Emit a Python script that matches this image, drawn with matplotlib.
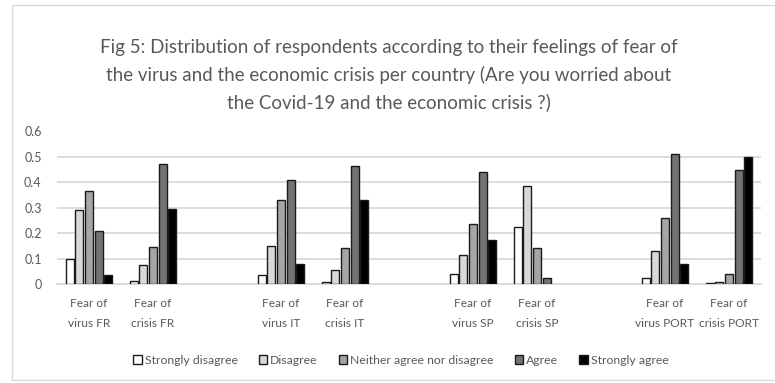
import matplotlib
matplotlib.use("Agg")
import matplotlib.pyplot as plt
from matplotlib.patches import Rectangle
import numpy as np

nan = float("nan")
categories = ["Fear of\nvirus FR", "Fear of\ncrisis FR", "",
              "Fear of\nvirus IT", "Fear of\ncrisis IT", "",
              "Fear of\nvirus SP", "Fear of\ncrisis SP", "",
              "Fear of\nvirus PORT", "Fear of\ncrisis PORT"]
series_names = ["Strongly disagree", "Disagree", "Neither agree nor disagree",
                "Agree", "Strongly agree"]
strongly_disagree = [0.098, 0.013, nan, 0.035, 0.007, nan, 0.038, 0.224, nan, 0.022, 0.004]
disagree          = [0.291, 0.073, nan, 0.148, 0.055, nan, 0.113, 0.384, nan, 0.128, 0.009]
neither           = [0.364, 0.145, nan, 0.330, 0.143, nan, 0.235, 0.143, nan, 0.258, 0.039]
agree             = [0.207, 0.473, nan, 0.408, 0.463, nan, 0.440, 0.022, nan, 0.510, 0.447]
strongly_agree    = [0.035, 0.297, nan, 0.077, 0.329, nan, 0.173, nan, nan, 0.080, 0.501]
values = [strongly_disagree, disagree, neither, agree, strongly_agree]
colors = ["#ffffff", "#d9d9d9", "#a5a5a5", "#767171", "#000000"]
title = ("Fig 5: Distribution of respondents according to their feelings of fear of\n"
         "the virus and the economic crisis per country (Are you worried about\n"
         "the Covid-19 and the economic crisis ?)")

plt.rcParams['font.family'] = ['Lato', 'DejaVu Sans']

fig = plt.figure(figsize=(7.75, 3.83), dpi=100)
fig.patches.append(Rectangle((12/775, 1-380/383), 1.0, 375/383, transform=fig.transFigure,
                             fill=False, edgecolor="#d9d9d9", linewidth=1.0))
ax = fig.add_axes([57/775, 1-284/383, (761-57)/775, (284-131.5)/383])

x = np.arange(len(categories))
step = 0.15
width = 0.122
for i, (name, vals, c) in enumerate(zip(series_names, values, colors)):
    offs = (i - 2) * step
    ax.bar(x + offs, vals, width=width, color=c, edgecolor="#1a1a1a",
           linewidth=1.0, label=name, zorder=3)

ax.set_xlim(-0.5, len(categories) - 0.5)
ax.set_ylim(0, 0.6)
ax.set_yticks(np.arange(0, 0.61, 0.1))
ax.set_yticklabels(["0", "0.1", "0.2", "0.3", "0.4", "0.5", "0.6"])
ax.set_xticks(x)
ax.set_xticklabels(categories, linespacing=2.0)
ax.tick_params(axis="both", length=0, labelsize=8.6, colors="#595959")
ax.tick_params(axis="y", labelsize=9)
ax.tick_params(axis="x", pad=10)
ax.tick_params(axis="y", pad=11)
ax.grid(axis="y", color="#d9d9d9", linewidth=1.3, zorder=0)
for s in ["top", "right", "left"]:
    ax.spines[s].set_visible(False)
ax.spines["bottom"].set_color("#d9d9d9")
ax.spines["bottom"].set_linewidth(1.3)

fig.text(389/775, 1-75/383, title, ha="center", va="center", fontsize=13.5,
         color="#595959", linespacing=1.62)

leg = fig.legend(loc="center", bbox_to_anchor=(401/775, 1-360/383), ncol=5,
                 frameon=False, fontsize=8.8, handlelength=0.7, handleheight=0.7,
                 handletextpad=0.25, columnspacing=1.7)
for t in leg.get_texts():
    t.set_color("#595959")

fig.savefig("out.png", dpi=100)
